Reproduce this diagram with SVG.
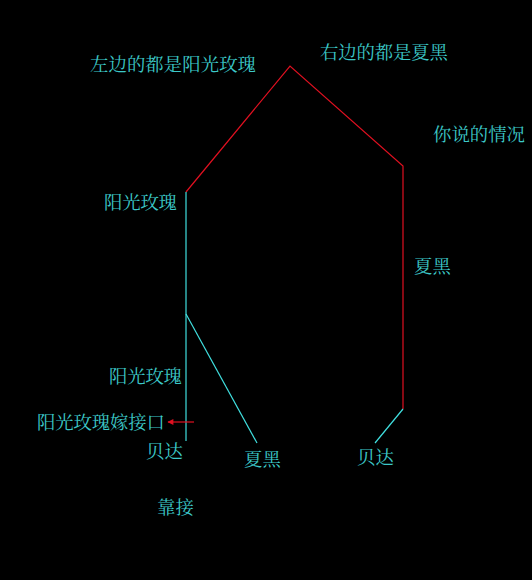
<svg xmlns="http://www.w3.org/2000/svg" width="532" height="580" viewBox="0 0 532 580">
<style>
text{font-family:"Noto Serif CJK SC","Noto Sans CJK SC",serif;font-size:18.4px;fill:#3cc8c8;}
.red{stroke:#e01020;stroke-width:1.2;fill:none;}
.cyan{stroke:#40e0e0;stroke-width:1.2;fill:none;}
</style>
<defs>
<marker id="ah" viewBox="0 0 10 10" refX="9" refY="5" markerWidth="7" markerHeight="6" orient="auto" markerUnits="userSpaceOnUse">
<path d="M10,5 L0,0 L0,10 Z" fill="#e01020"/>
</marker>
</defs>
<rect width="532" height="580" fill="#000"/>
<g id="connectors">
<polyline class="red" points="186,192 290,66 403,166 403,409"/>
<line class="cyan" x1="186" y1="192" x2="186" y2="441"/>
<line class="cyan" x1="186" y1="314" x2="257" y2="443"/>
<line class="cyan" x1="403" y1="409" x2="375" y2="443"/>
<line class="red" x1="194" y1="422" x2="168" y2="422" marker-end="url(#ah)"/>
</g>
<g id="labels">
<text id="t1" x="90" y="71" textLength="166">左边的都是阳光玫瑰</text>
<text id="t2" x="320" y="59" textLength="128">右边的都是夏黑</text>
<text id="t3" x="433" y="141" textLength="92">你说的情况</text>
<text id="t4" x="104" y="209" textLength="73">阳光玫瑰</text>
<text id="t5" x="414" y="273">夏黑</text>
<text id="t6" x="109" y="383" textLength="73">阳光玫瑰</text>
<text id="t7" x="37" y="429" textLength="128">阳光玫瑰嫁接口</text>
<text id="t8" x="146" y="458">贝达</text>
<text id="t9" x="244" y="466">夏黑</text>
<text id="t10" x="357" y="464">贝达</text>
<text id="t11" x="157" y="514">靠接</text>
</g>
</svg>
